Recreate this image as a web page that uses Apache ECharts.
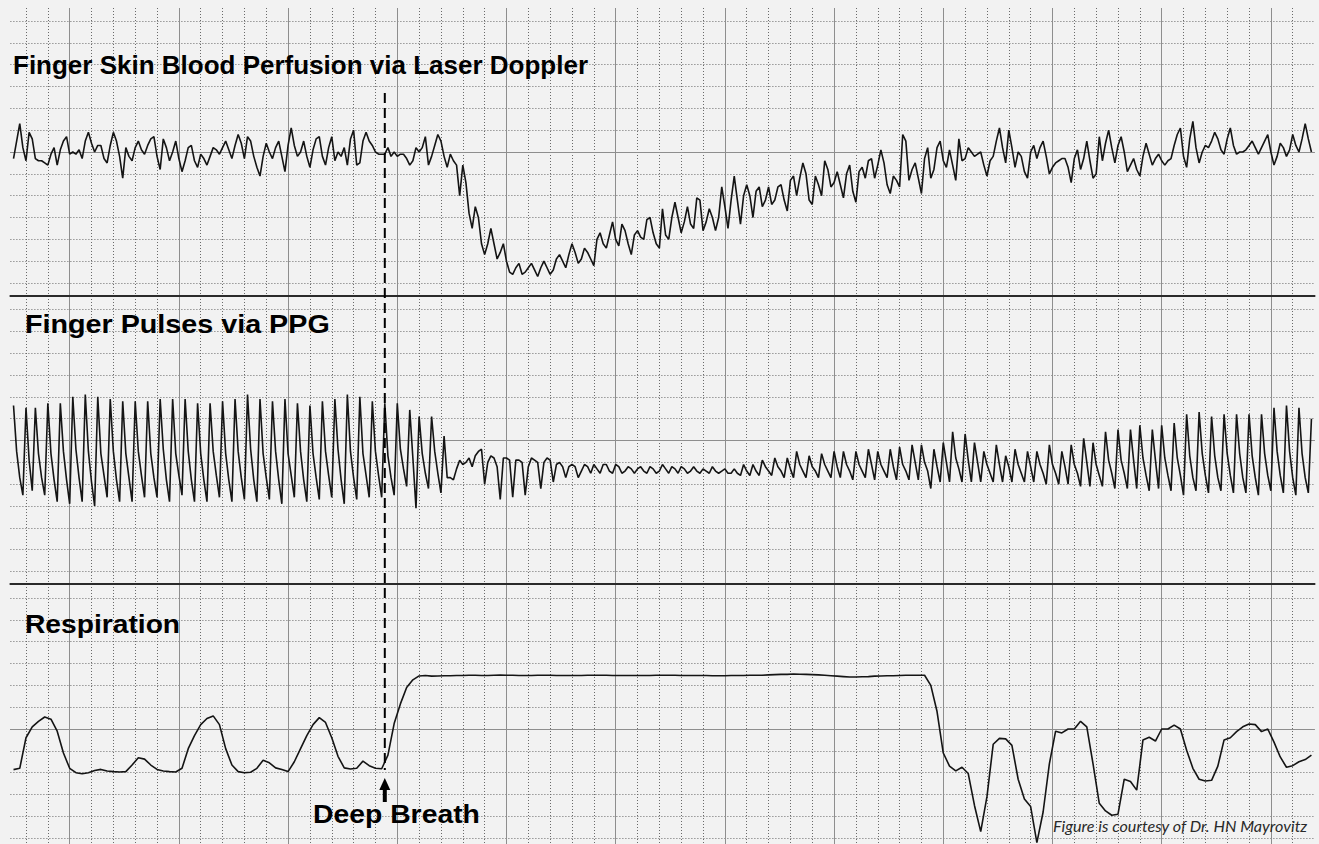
<!DOCTYPE html>
<html><head><meta charset="utf-8">
<script src="https://cdn.jsdelivr.net/npm/echarts@6/dist/echarts.min.js"></script>
<style>html,body{margin:0;padding:0;background:#f2f2f2;}#c{width:1319px;height:844px;}</style>
</head><body><div id="c"></div>
<script>
// x = sample index (7 samples per minor grid cell), y = tenths of a minor grid cell from the trace baseline
const SAMPLE_START = -4;
const perfusion = [
 -3, 5, 13, 2, -4, 9, 6, -3, -4, -4,
 -5, -6, -1, 2, -6, 1, 5, 7, -1, 0,
 -1, 1, -3, 5, 9, 4, 0, 3, 3, -3,
 -5, 3, 9, 5, -2, -12, 2, -2, -4, 2,
 5, 1, -1, 3, 6, 7, -2, -8, 6, 2,
 -4, 0, 5, -3, -9, -4, 2, 3, -4, -7,
 -1, -3, -6, -2, 2, 1, -1, 2, 5, 1,
 -3, 3, 8, 4, -3, 7, 5, -2, -7, -11,
 -2, 4, 0, -3, 2, 5, -2, -9, 3, 11,
 3, -2, 0, 5, -2, -7, 1, 6, 7, -2,
 -6, 2, 7, -4, 0, -2, 2, -6, 6, 10,
 -6, -5, 5, 9, 5, 3, 0, -1, -1, -1,
 2, -2, 0, -2, -1, -1, -3, -6, -4, 2,
 0, 2, 7, -6, -2, 3, 8, 5, -2, -7,
 -1, -4, -6, -20, -6, -14, -28, -35, -25, -30,
 -42, -47, -42, -35, -42, -49, -46, -42, -50, -55,
 -56, -53, -51, -56, -55, -53, -51, -54, -57, -53,
 -50, -53, -56, -54, -49, -47, -50, -53, -47, -42,
 -46, -51, -49, -44, -46, -49, -52, -40, -37, -42,
 -44, -38, -32, -40, -43, -33, -36, -42, -47, -38,
 -36, -39, -40, -31, -30, -37, -42, -44, -26, -38,
 -40, -30, -23, -30, -37, -32, -25, -33, -35, -21,
 -22, -36, -32, -26, -30, -36, -30, -16, -25, -35,
 -22, -11, -22, -33, -20, -15, -20, -30, -18, -16,
 -25, -22, -16, -24, -22, -16, -15, -22, -27, -13,
 -11, -20, -12, -5, -10, -22, -24, -11, -15, -20,
 -4, -8, -16, -14, -9, -15, -21, -10, -6, -18,
 -23, -9, -7, -12, -4, -3, -12, -6, 1, -5,
 -15, -19, -11, -13, -16, 8, 5, -13, -8, -5,
 -12, -19, -3, 2, -12, -8, 2, 5, -4, -7,
 1, -6, -13, 6, -4, -3, 2, 0, -2, -1,
 0, -6, -11, -4, -2, 5, 11, 2, -5, 10,
 2, -7, 0, -2, -9, -12, 0, 3, -3, 2,
 5, -2, -10, -7, -5, -4, -3, -3, -7, -14,
 -3, 1, -8, -3, 5, -4, -12, -10, 7, -4,
 4, 10, 2, -5, 3, 7, 0, -9, -6, -3,
 -8, -11, -2, 4, -1, -6, -3, -1, -4, -6,
 -4, -3, 3, 8, 11, -2, -7, 6, 14, 2,
 -5, 0, 3, 2, 5, 9, 6, 1, -1, 6,
 11, 3, -1, 0, 0, 1, 3, 5, 2, -1,
 2, 5, 8, 0, -6, -2, 4, 2, -2, 1,
 8, 3, 0, 6, 13, 6, 0
];
const ppg = [
 16, -5, -17, -25, 15, -9, -23, 15, -6, -17,
 -25, 17, -6, -18, -28, 17, -5, -18, -29, 20,
 -4, -17, -28, 21, -5, -19, -30, 20, -6, -16,
 -26, 19, -5, -18, -28, 18, -6, -17, -28, 18,
 -5, -16, -26, 18, -6, -17, -26, 19, -4, -18,
 -28, 19, -6, -16, -25, 19, -5, -18, -28, 17,
 -6, -18, -28, 17, -5, -16, -26, 18, -6, -18,
 -28, 19, -5, -17, -27, 21, -4, -18, -28, 19,
 -6, -17, -27, 18, -5, -18, -29, 19, -6, -16,
 -26, 17, -5, -18, -28, 16, -6, -17, -27, 18,
 -5, -16, -26, 19, -4, -18, -29, 21, -5, -17,
 -27, 20, -6, -16, -26, 18, -5, -16, -26, 17,
 -7, -17, -25, 17, -4, -13, -21, 14, -8, -31,
 11, -6, -15, -22, 11, -5, -15, -24, 2, -17,
 -17, -18, -13, -9, -11, -10, -8, -12, -7, -5,
 -4, -20, -10, -7, -8, -12, -27, -8, -8, -9,
 -26, -9, -9, -10, -25, -12, -8, -9, -10, -22,
 -10, -8, -9, -19, -11, -10, -12, -17, -12, -11,
 -12, -17, -14, -11, -12, -15, -11, -13, -15, -11,
 -11, -14, -15, -11, -12, -15, -14, -12, -13, -15,
 -13, -12, -14, -15, -12, -13, -15, -14, -11, -13,
 -15, -12, -13, -15, -12, -13, -15, -14, -12, -14,
 -15, -13, -14, -15, -12, -14, -15, -14, -13, -15,
 -15, -13, -15, -16, -11, -14, -16, -11, -14, -16,
 -9, -12, -14, -16, -8, -12, -14, -17, -8, -13,
 -17, -5, -11, -14, -17, -7, -12, -14, -17, -6,
 -11, -14, -17, -5, -12, -17, -5, -11, -14, -18,
 -5, -11, -14, -17, -4, -11, -18, -5, -11, -14,
 -17, -4, -12, -18, -3, -11, -14, -18, -2, -10,
 -18, -2, -10, -14, -22, -4, -12, -19, -1, -10,
 -19, 4, -8, -13, -19, 3, -9, -19, -1, -10,
 -19, -5, -11, -15, -19, -2, -11, -19, -7, -12,
 -19, -4, -11, -15, -19, -5, -12, -19, -5, -11,
 -15, -20, -2, -11, -15, -20, -5, -12, -20, -2,
 -11, -15, -21, 1, -10, -21, -1, -11, -16, -21,
 4, -9, -15, -22, 5, -9, -15, -22, 5, -9,
 -22, 7, -8, -16, -23, 5, -9, -22, 7, -8,
 -16, -23, 8, -8, -16, -25, 12, -7, -17, -23,
 13, -6, -16, -24, 11, -7, -17, -23, 12, -6,
 -16, -24, 12, -6, -17, -24, 12, -7, -17, -25,
 12, -6, -16, -23, 15, -5, -16, -24, 16, -5,
 -17, -25, 15, -6, -17, -24, 10
];
const RESP_STEP = 2;
const respiration = [
 -18.6, -18, -4, 1, 3.5, 5.5, 4.5, -1, -11, -18,
 -20, -20.5, -20, -19, -18.5, -19.2, -19.5, -19.7, -19.5, -16.5,
 -13.2, -13.8, -16.5, -18.5, -19.2, -19.5, -19.7, -18, -9, -3,
 2, 4.8, 6, 2, -9, -16.5, -19.5, -20, -19.8, -18,
 -14.3, -15.5, -17.8, -18.5, -19.5, -15, -9, -3, 2, 5.2,
 3, -4, -12.5, -17.8, -18.3, -18, -14.7, -16.8, -18, -18.2,
 -12, 2.5, 11.5, 19, 22.5, 24.3, 24.5, 24.2, 24.3, 24.4,
 24.4, 24.5, 24.5, 24.6, 24.6, 24.5, 24.5, 24.6, 24.7, 24.6,
 24.6, 24.5, 24.5, 24.5, 24.6, 24.6, 24.6, 24.5, 24.5, 24.5,
 24.5, 24.5, 24.6, 24.6, 24.6, 24.6, 24.5, 24.5, 24.5, 24.5,
 24.5, 24.5, 24.5, 24.6, 24.6, 24.6, 24.6, 24.5, 24.5, 24.5,
 24.5, 24.5, 24.4, 24.4, 24.4, 24.5, 24.5, 24.5, 24.6, 24.6,
 24.6, 24.8, 24.9, 25, 25, 25.2, 25.1, 25, 24.9, 24.8,
 24.6, 24.4, 24.2, 24, 23.8, 23.8, 23.9, 24, 24.2, 24.3,
 24.4, 24.4, 24.5, 24.6, 24.6, 24.6, 24.6, 20, 8, -11,
 -17, -19.2, -17.5, -20.4, -35, -47, -31, -7, -4.3, -4.5,
 -7.5, -23, -32, -35.5, -52, -38, -16, -1, -1.8, 0,
 0, 3.5, 1, -16, -34, -37.5, -39.5, -39, -23, -24,
 -28, -5, -3.8, -5.5, 0, 0, 1.8, 0, -9.7, -18,
 -23, -23.8, -23.5, -17, -5, -4, -1.2, 1, 2.3, 2,
 -1.2, 0, -6, -12.8, -17.5, -16.8, -15, -14, -12
];
const panelTitles = ['Finger Skin Blood Perfusion via Laser Doppler', 'Finger Pulses via PPG', 'Respiration'];
const eventSample = 115;
const eventLabel = 'Deep Breath';
const creditText = 'Figure is courtesy of Dr. HN Mayrovitz';

// ---------- layout ----------
const CELL = 21.84, SPC = 7, PXS = CELL / SPC;
const X0 = 26;              // pixel of sample 0
const CENTERS = [152, 440.5, 729];
const SEPARATORS = [296, 584];
const TOP_Y = 8;
const GRID_MIN = '#6a6a6a', GRID_MAJ = '#8e8e8e', INK = '#141414';

const toXY = (arr, step) => arr.map((v, i) => [SAMPLE_START + i * step, v]);

const grids = [
  {left: X0, top: TOP_Y, width: 58 * CELL, height: 844 - TOP_Y, outerBoundsMode: 'none'},
  {left: X0 + 2 * CELL, top: TOP_Y, width: 55 * CELL, height: 844 - TOP_Y, outerBoundsMode: 'none'}
];
const xAxes = [
  {gridIndex: 0, type: 'value', min: 0, max: 58 * SPC, interval: SPC,
   axisLine: {show: false}, axisTick: {show: false}, axisLabel: {show: false},
   splitLine: {show: true, lineStyle: {color: GRID_MIN, width: 1, type: [1, 2]}}},
  {gridIndex: 1, type: 'value', min: 0, max: 55 * SPC, interval: 5 * SPC,
   axisLine: {show: false}, axisTick: {show: false}, axisLabel: {show: false},
   splitLine: {show: true, lineStyle: {color: GRID_MAJ, width: 1, type: 'solid'}}}
];
const yAxes = [
  {gridIndex: 0, type: 'value', min: 0, max: 1, show: false},
  {gridIndex: 1, type: 'value', min: 0, max: 1, show: false}
];
CENTERS.forEach((c, i) => {
  const ymin = i < 2 ? -60 : -50;
  grids.push({left: X0 - 5 * PXS, width: 418 * PXS, top: c - 6 * CELL,
              height: (60 - ymin) / 10 * CELL, outerBoundsMode: 'none'});
  xAxes.push({gridIndex: 2 + i, type: 'value', min: -5, max: 413, position: 'top',
    axisLine: {show: true, onZero: true, lineStyle: {color: GRID_MAJ, width: 1}},
    axisTick: {show: false}, axisLabel: {show: false}, splitLine: {show: false}});
  yAxes.push({gridIndex: 2 + i, type: 'value', min: ymin, max: 60, interval: 10,
    axisLine: {show: false}, axisTick: {show: false}, axisLabel: {show: false},
    splitLine: {show: true, lineStyle: {color: GRID_MIN, width: 1, type: [1, 2]}}});
});
SEPARATORS.forEach((s, i) => {
  const g = grids[2 + i];
  xAxes.push({gridIndex: 2 + i, type: 'value', min: -5, max: 413, position: 'bottom',
    offset: s - (g.top + g.height),
    axisLine: {show: true, onZero: false, lineStyle: {color: '#2a2a2a', width: 2}},
    axisTick: {show: false}, axisLabel: {show: false}, splitLine: {show: false}});
});

const lineSeries = (data, idx) => ({
  type: 'line', xAxisIndex: idx, yAxisIndex: idx, data: data,
  showSymbol: false, symbol: 'none', clip: false, silent: true,
  lineStyle: {color: INK, width: 1.6}, z: 5
});

const chart = echarts.init(document.getElementById('c'), null, {renderer: 'svg', width: 1319, height: 844});
chart.setOption({
  animation: false,
  backgroundColor: '#f2f2f2',
  grid: grids, xAxis: xAxes, yAxis: yAxes,
  series: [
    lineSeries(toXY(perfusion, 1), 2),
    lineSeries(toXY(ppg, 1), 3),
    lineSeries(toXY(respiration, RESP_STEP), 4)
  ]
});

const ex = chart.convertToPixel({xAxisIndex: 2}, eventSample);
const titleFont = 'bold 26px "Liberation Sans", Arial, sans-serif';
const txt = (text, x, y, sx, font, fill) => ({type: 'text', x: x, y: y, scaleX: sx, z: 50,
  style: {text: text, font: font, fill: fill || '#000', align: 'left', verticalAlign: 'middle'}});
chart.setOption({
  graphic: [
    txt(panelTitles[0], 13, 64.5, 1.0, titleFont),
    txt(panelTitles[1], 25, 324, 1.105, titleFont),
    txt(panelTitles[2], 25, 623.7, 1.085, titleFont),
    txt(eventLabel, 313, 814, 1.09, titleFont),
    txt(creditText, 1053, 825.8, 1.01, 'italic 16px Lato, "Open Sans", sans-serif', '#2a2a2a'),
    {type: 'line', z: 40, shape: {x1: ex, y1: 93, x2: ex, y2: 770},
     style: {stroke: '#000', lineWidth: 2, lineDash: [10, 5]}},
    {type: 'polygon', z: 40, shape: {points: [[ex, 778], [ex - 5.5, 790], [ex + 5.5, 790]]},
     style: {fill: '#000'}},
    {type: 'rect', z: 40, shape: {x: ex - 2, y: 789, width: 4, height: 13}, style: {fill: '#000'}}
  ]
});
</script>
</body></html>
